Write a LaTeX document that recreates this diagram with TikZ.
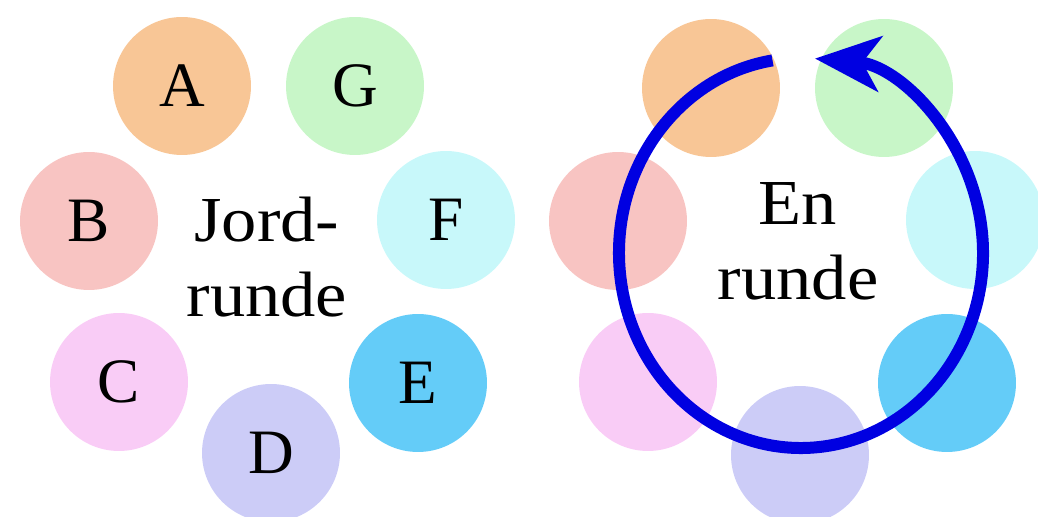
\documentclass[tikz,border=0pt]{standalone}
\usepackage{fontspec}
\setmainfont{Liberation Serif}
\newfontfamily\widefont[FakeStretch=1.1]{Liberation Serif}
\usetikzlibrary{arrows.meta}

\definecolor{ballA}{RGB}{248,198,150}
\definecolor{ballG}{RGB}{200,246,200}
\definecolor{ballB}{RGB}{248,196,194}
\definecolor{ballF}{RGB}{200,248,250}
\definecolor{ballC}{RGB}{249,204,246}
\definecolor{ballE}{RGB}{100,204,248}
\definecolor{ballD}{RGB}{204,204,247}
\definecolor{turnblue}{RGB}{0,0,225}

\begin{document}
\begin{tikzpicture}[x=0.02cm, y=0.02cm,
    ball/.style={circle, fill=#1, minimum size=2.76cm, inner sep=0pt,
        font=\fontsize{36}{42}\selectfont},
    word/.style={align=center, font=\widefont\fontsize{36.5}{42.7}\selectfont}]
    % Frame
    \useasboundingbox (0,0) rectangle (1038,517);
    \clip (0,0) rectangle (1038,517);

    % Left ring, with letters
    \foreach \n/\x/\y in {A/182/431, G/355/431, B/89/296, F/446/297, C/119/135, E/418/134, D/271/64}
        \node[ball=ball\n] (\n) at (\x,\y) {\n};
    \node[word] (jord) at (267,260) {Jord-\\runde};

    % Right ring, same balls, no letters
    \foreach \n/\x/\y in {A/182/429, G/355/429, B/89/296, F/446/297, C/119/135, E/418/134, D/271/62}
        \node[ball=ball\n] (\n2) at (\x+529,\y) {};
    \node[word] (en) at (798,276) {En\\runde};

    % One turn round the ring
    \coordinate (turn) at (801,264);
    \draw[turnblue, line width=0.24cm, -{Stealth[length=1.3cm, width=1.1cm, inset=0.35cm]}]
        ([shift={(99:182 and 195)}]turn) arc[start angle=99, end angle=445.6, x radius=182, y radius=195];
\end{tikzpicture}
\end{document}
